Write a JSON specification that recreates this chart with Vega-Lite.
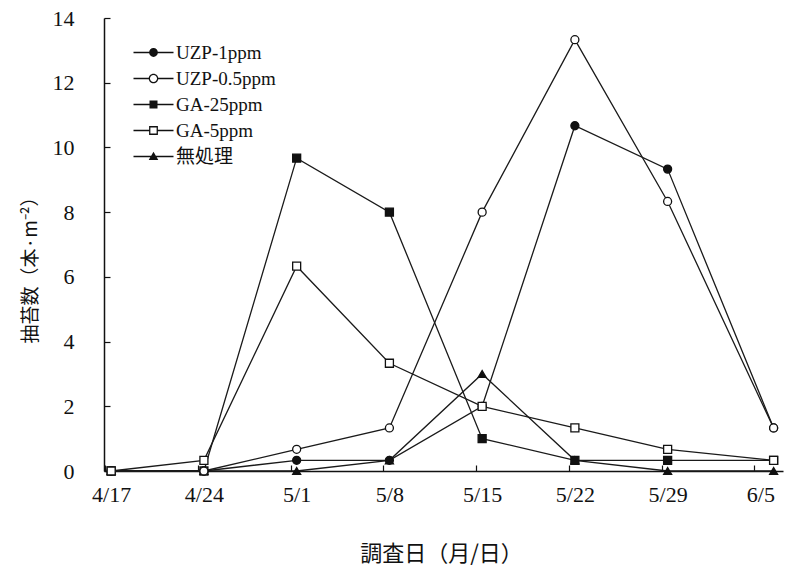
{
  "$schema": "https://vega.github.io/schema/vega-lite/v6.json",
  "width": 679,
  "height": 453,
  "autosize": "none",
  "padding": {"left": 104, "top": 18, "right": 3, "bottom": 105},
  "background": "white",
  "config": {"view": {"stroke": null}, "font": "Liberation Serif"},
  "data": {
    "values": [
      {"series": "無処理", "date": "2001-04-17", "value": 0},
      {"series": "無処理", "date": "2001-04-24", "value": 0},
      {"series": "無処理", "date": "2001-05-01", "value": 0},
      {"series": "無処理", "date": "2001-05-08", "value": 0.33},
      {"series": "無処理", "date": "2001-05-15", "value": 3.0},
      {"series": "無処理", "date": "2001-05-22", "value": 0.33},
      {"series": "無処理", "date": "2001-05-29", "value": 0},
      {"series": "無処理", "date": "2001-06-06", "value": 0},
      {"series": "UZP-1ppm", "date": "2001-04-17", "value": 0},
      {"series": "UZP-1ppm", "date": "2001-04-24", "value": 0},
      {"series": "UZP-1ppm", "date": "2001-05-01", "value": 0.33},
      {"series": "UZP-1ppm", "date": "2001-05-08", "value": 0.33},
      {"series": "UZP-1ppm", "date": "2001-05-15", "value": 2.0},
      {"series": "UZP-1ppm", "date": "2001-05-22", "value": 10.67},
      {"series": "UZP-1ppm", "date": "2001-05-29", "value": 9.33},
      {"series": "UZP-1ppm", "date": "2001-06-06", "value": 1.33},
      {"series": "GA-25ppm", "date": "2001-04-17", "value": 0},
      {"series": "GA-25ppm", "date": "2001-04-24", "value": 0},
      {"series": "GA-25ppm", "date": "2001-05-01", "value": 9.67},
      {"series": "GA-25ppm", "date": "2001-05-08", "value": 8.0},
      {"series": "GA-25ppm", "date": "2001-05-15", "value": 1.0},
      {"series": "GA-25ppm", "date": "2001-05-22", "value": 0.33},
      {"series": "GA-25ppm", "date": "2001-05-29", "value": 0.33},
      {"series": "GA-25ppm", "date": "2001-06-06", "value": 0.33},
      {"series": "UZP-0.5ppm", "date": "2001-04-17", "value": 0},
      {"series": "UZP-0.5ppm", "date": "2001-04-24", "value": 0},
      {"series": "UZP-0.5ppm", "date": "2001-05-01", "value": 0.67},
      {"series": "UZP-0.5ppm", "date": "2001-05-08", "value": 1.33},
      {"series": "UZP-0.5ppm", "date": "2001-05-15", "value": 8.0},
      {"series": "UZP-0.5ppm", "date": "2001-05-22", "value": 13.33},
      {"series": "UZP-0.5ppm", "date": "2001-05-29", "value": 8.33},
      {"series": "UZP-0.5ppm", "date": "2001-06-06", "value": 1.33},
      {"series": "GA-5ppm", "date": "2001-04-17", "value": 0},
      {"series": "GA-5ppm", "date": "2001-04-24", "value": 0.33},
      {"series": "GA-5ppm", "date": "2001-05-01", "value": 6.33},
      {"series": "GA-5ppm", "date": "2001-05-08", "value": 3.33},
      {"series": "GA-5ppm", "date": "2001-05-15", "value": 2.0},
      {"series": "GA-5ppm", "date": "2001-05-22", "value": 1.33},
      {"series": "GA-5ppm", "date": "2001-05-29", "value": 0.67},
      {"series": "GA-5ppm", "date": "2001-06-06", "value": 0.33}
    ]
  },
  "encoding": {
    "x": {
      "field": "date", "type": "temporal",
      "scale": {"type": "utc", "domain": [
        {"year": 2001, "month": 4, "date": 16, "hours": 11, "utc": true},
        {"year": 2001, "month": 6, "date": 6, "hours": 17, "utc": true}
      ]},
      "axis": {
        "title": "調査日（月/日）",
        "values": [
          {"year": 2001, "month": 4, "date": 17, "utc": true},
          {"year": 2001, "month": 4, "date": 24, "utc": true},
          {"year": 2001, "month": 5, "date": 1, "utc": true},
          {"year": 2001, "month": 5, "date": 8, "utc": true},
          {"year": 2001, "month": 5, "date": 15, "utc": true},
          {"year": 2001, "month": 5, "date": 22, "utc": true},
          {"year": 2001, "month": 5, "date": 29, "utc": true},
          {"year": 2001, "month": 6, "date": 5, "utc": true}
        ],
        "labelExpr": "utcFormat(datum.value, '%-m/%-d')",
        "grid": false,
        "labelFont": "Liberation Serif",
        "labelFontSize": 22,
        "labelColor": "#111",
        "labelPadding": 19,
        "labelOverlap": false,
        "labelFlush": false,
        "tickSize": -6,
        "tickOffset": -6,
        "labelOffset": 6,
        "tickColor": "#111",
        "tickWidth": 1.2,
        "domainColor": "#111",
        "domainWidth": 1.5,
        "titleFont": "Noto Sans CJK JP",
        "titleFontSize": 22,
        "titleFontWeight": "normal",
        "titleColor": "#111",
        "titleX": 337,
        "titleY": 82,
        "titleAlign": "center",
        "titleBaseline": "middle"
      }
    },
    "y": {
      "field": "value", "type": "quantitative",
      "scale": {"domain": [0, 14], "nice": false},
      "axis": {
        "title": "抽苔数（本·m⁻²）",
        "values": [0, 2, 4, 6, 8, 10, 12, 14],
        "grid": false,
        "labelFont": "Liberation Serif",
        "labelFontSize": 22,
        "labelColor": "#111",
        "labelPadding": 36,
        "tickSize": -6,
        "tickColor": "#111",
        "tickWidth": 1.2,
        "domainColor": "#111",
        "domainWidth": 1.5,
        "titleFont": "Noto Sans CJK JP",
        "titleFontSize": 19,
        "titleFontWeight": "normal",
        "titleColor": "#111",
        "titleAngle": -90,
        "titleX": -74,
        "titleY": 247,
        "titleAlign": "center",
        "titleBaseline": "middle"
      }
    }
  },
  "layer": [
    {
      "mark": {"type": "line", "stroke": "#1a1a1a", "strokeWidth": 1.3},
      "encoding": {"detail": {"field": "series"}}
    },
    {
      "mark": {"type": "point", "filled": true, "stroke": "#111", "strokeWidth": 1.3, "opacity": 1},
      "encoding": {
        "shape": {"field": "series", "type": "nominal",
          "scale": {"domain": ["UZP-1ppm", "UZP-0.5ppm", "GA-25ppm", "GA-5ppm", "無処理"],
                    "range": ["circle", "circle", "square", "square", "triangle-up"]},
          "legend": null},
        "fill": {"field": "series", "type": "nominal",
          "scale": {"domain": ["UZP-1ppm", "UZP-0.5ppm", "GA-25ppm", "GA-5ppm", "無処理"],
                    "range": ["#111", "white", "#111", "white", "#111"]},
          "legend": null},
        "size": {"field": "series", "type": "nominal",
          "scale": {"domain": ["UZP-1ppm", "UZP-0.5ppm", "GA-25ppm", "GA-5ppm", "無処理"],
                    "range": [64, 64, 85, 85, 80]},
          "legend": null}
      }
    },
    {
      "transform": [{"filter": "false"}],
      "mark": {"type": "point", "filled": true, "color": "#111", "strokeWidth": 0, "opacity": 1},
      "encoding": {
        "shape": {"field": "series", "type": "nominal",
          "scale": {"domain": ["UZP-1ppm", "UZP-0.5ppm", "GA-25ppm", "GA-5ppm", "無処理"],
                    "range": [
                      "M-2.5,-0.08H2.5V0.08H-2.5Z M0.55,0A0.55,0.55,0,1,1,-0.55,0A0.55,0.55,0,1,1,0.55,0Z",
                      "M-2.5,-0.08H-0.56V0.08H-2.5Z M0.56,-0.08H2.5V0.08H0.56Z M0.6,0A0.6,0.6,0,1,1,-0.6,0A0.6,0.6,0,1,1,0.6,0Z M0.44,0A0.44,0.44,0,1,0,-0.44,0A0.44,0.44,0,1,0,0.44,0Z",
                      "M-2.5,-0.08H2.5V0.08H-2.5Z M-0.5,-0.5H0.5V0.5H-0.5Z",
                      "M-2.5,-0.08H-0.5V0.08H-2.5Z M0.5,-0.08H2.5V0.08H0.5Z M-0.55,-0.55H0.55V0.55H-0.55Z M-0.39,-0.39V0.39H0.39V-0.39Z",
                      "M-2.5,-0.08H2.5V0.08H-2.5Z M0,-0.6L0.6,0.45L-0.6,0.45Z"
                    ]},
          "legend": {
            "title": null, "orient": "none", "legendX": 40, "legendY": 25,
            "symbolSize": 256, "symbolFillColor": "#111", "symbolStrokeWidth": 0,
            "labelFont": "Liberation Serif, Noto Sans CJK JP", "labelFontSize": 19,
            "labelColor": "#111", "labelOffset": 13, "rowPadding": 6
          }}
      }
    }
  ],
  "resolve": {"scale": {"shape": "independent", "fill": "independent", "size": "independent"}}
}
